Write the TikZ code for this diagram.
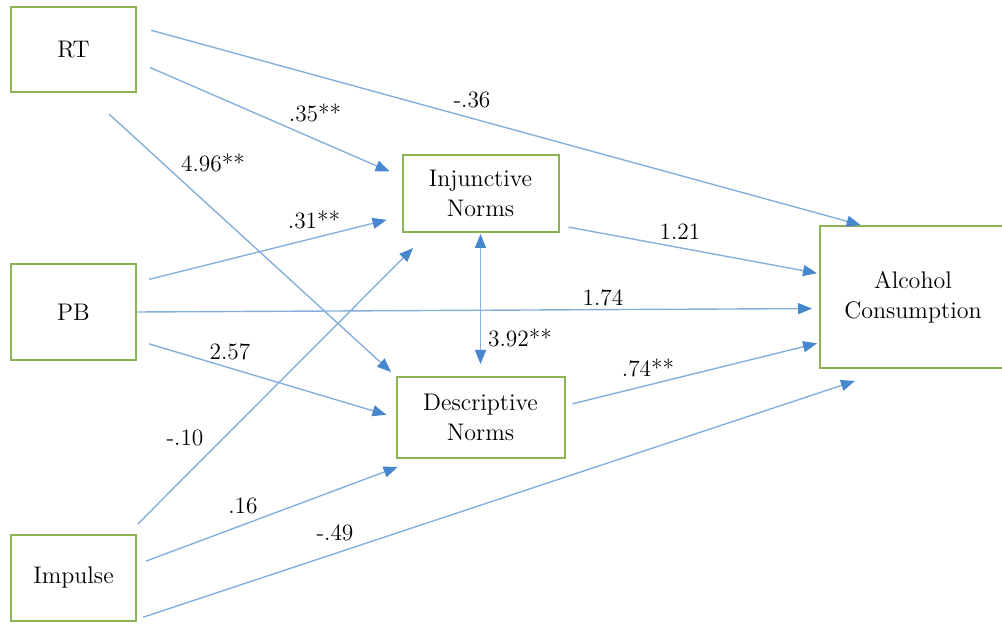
\documentclass[tikz,border=0pt]{standalone}
\usetikzlibrary{arrows.meta, positioning, calc}
\definecolor{BoxGreen}{RGB}{140, 180, 85}
\definecolor{LinkBlue}{RGB}{135, 175, 220}
\definecolor{TipBlue}{RGB}{70, 135, 205}
\tikzset{
    box/.style={rectangle, draw=BoxGreen, line width=1pt, fill=white, align=center, inner sep=0pt, font=\fontsize{12}{15}\selectfont},
    link/.style={draw=LinkBlue, line width=0.7pt, -{Triangle[length=7pt, width=5.5pt, color=TipBlue]}},
    coef/.style={font=\fontsize{11.7}{13}\selectfont, inner sep=0pt}
}

\begin{document}
\begin{tikzpicture}[x=0.5pt, y=-0.5pt]
            \useasboundingbox (0,0) rectangle (1002,624);

            \node[box, minimum width=62.5pt, minimum height=42.5pt] (rt) at (73.5,49.5) {RT};
            \node[box, minimum width=62.5pt, minimum height=48pt] (pb) at (73.5,312) {PB};
            \node[box, minimum width=62.5pt, minimum height=43pt] (imp) at (73.5,578) {Impulse};
            \node[box, minimum width=78pt, minimum height=38.5pt] (inj) at (480.5,193.5) {Injunctive\\Norms};
            \node[box, minimum width=84pt, minimum height=40.5pt] (desc) at (480.5,417.5) {Descriptive\\Norms};
            \node[box, minimum width=93pt, minimum height=71pt] (alc) at (913,297) {Alcohol\\Consumption};

            % paths from the predictors
            \draw[link, shorten <=7.3pt] (rt.20.5) -- (alc.126.4);
            \draw[link, shorten <=7.1pt, shorten >=6.5pt] (rt.-11.6) -- (inj.168.9);
            \draw[link, shorten <=15.6pt, shorten >=3pt] (rt.-74.7) -- (desc.154);
            \draw[link, shorten <=6.2pt, shorten >=7.7pt] (pb.25.6) -- (inj.-164.5);
            \draw[link, shorten >=3.5pt] (pb.-0.9) -- (alc.-173.3);
            \draw[link, shorten <=6.3pt, shorten >=4.7pt] (pb.-24.5) -- (desc.180);
            \draw[link, shorten <=7.1pt, shorten >=10.6pt] (imp.39.9) -- (inj.-143.5);
            \draw[link, shorten <=4.8pt, shorten >=11.4pt] (imp.12.3) -- (desc.-146.7);
            \draw[link, shorten <=3.2pt, shorten >=19pt] (imp.-33.3) -- (alc.-107.2);

            % paths from the norms
            \draw[link, shorten <=4.6pt, shorten >=1pt] (inj.-22.2) -- (alc.166.9);
            \draw[link, shorten <=3.6pt, shorten >=1pt] (desc.8.7) -- (alc.-154.4);
            \draw[link, {Triangle[length=7pt, width=5.5pt, color=TipBlue]}-{Triangle[length=7pt, width=5.5pt, color=TipBlue]}, shorten <=0.5pt, shorten >=6pt] (inj.south) -- (desc.north);

            % coefficients
            \node[coef] (cRtAlc) at (472,100) {-.36};
            \node[coef] (cRtInj) at (315,113) {.35**};
            \node[coef] (cRtDesc) at (213,163) {4.96**};
            \node[coef] (cPbInj) at (314,220) {.31**};
            \node[coef] (cInjAlc) at (680,232) {1.21};
            \node[coef] (cPbAlc) at (603,298) {1.74};
            \node[coef] (cNorms) at (520,338) {3.92**};
            \node[coef] (cDescAlc) at (648,368) {.74**};
            \node[coef] (cPbDesc) at (230,352) {2.57};
            \node[coef] (cImpInj) at (185,438) {-.10};
            \node[coef] (cImpDesc) at (243,506) {.16};
            \node[coef] (cImpAlc) at (335,533) {-.49};
            \end{tikzpicture}
\end{document}
